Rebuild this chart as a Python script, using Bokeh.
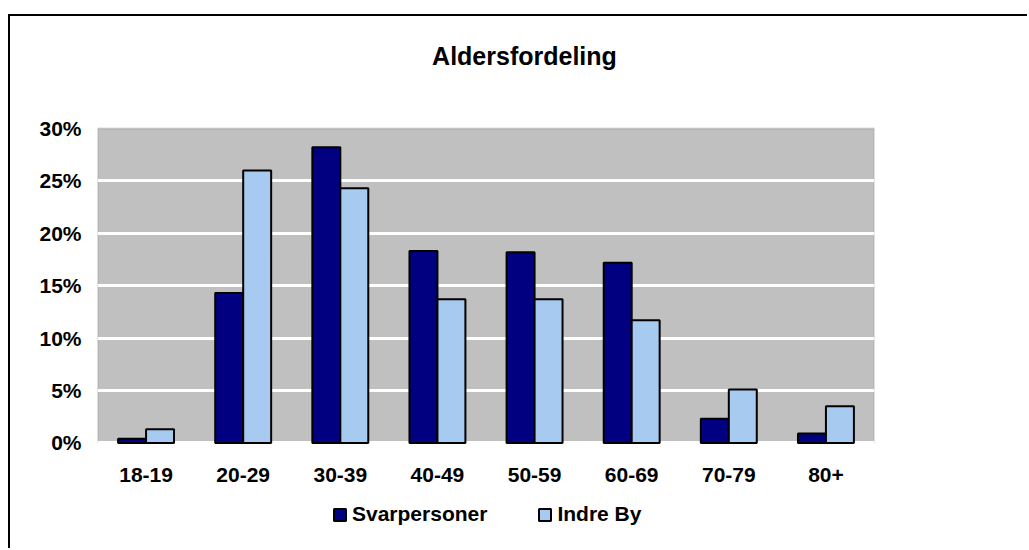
from bokeh.plotting import figure
from bokeh.models import (FactorRange, FixedTicker, NumeralTickFormatter, Legend, LegendItem,
                          ColumnDataSource, BoxAnnotation, Label)
from bokeh.transform import dodge
from bokeh.embed import file_html
from bokeh.resources import INLINE

categories = ["18-19", "20-29", "30-39", "40-49", "50-59", "60-69", "70-79", "80+"]
svarpersoner = [0.4, 14.3, 28.2, 18.3, 18.2, 17.2, 2.3, 0.9]
indre_by = [1.3, 26.0, 24.3, 13.7, 13.7, 11.7, 5.1, 3.5]
y_ticks = [0, 5, 10, 15, 20, 25, 30]
title_text = "Aldersfordeling"
series_names = ["Svarpersoner", "Indre By"]

src = ColumnDataSource(dict(cat=categories,
                            s=[v / 100 for v in svarpersoner],
                            i=[v / 100 for v in indre_by]))

FONT = "Liberation Sans"
Y_MAX = y_ticks[-1] / 100

# the frame spans the full height; the grey plot area is drawn from 0 to 30 %
p = figure(x_range=FactorRange(*categories), y_range=(-0.1026, 0.4068),
           width=1019, height=534, output_backend="svg", toolbar_location=None,
           min_border_left=87, min_border_right=155, min_border_top=0, min_border_bottom=0,
           background_fill_color="white", border_fill_color="white",
           outline_line_color=None,
           styles={"margin-top": "14px", "margin-left": "8px",
                   "border-left": "2px solid black", "border-top": "2px solid black"})

area = BoxAnnotation(bottom=0, top=Y_MAX, fill_color="#C0C0C0", fill_alpha=1,
                     line_color="#808080", line_width=2, level="image")
p.add_layout(area)

r1 = p.vbar(x=dodge("cat", -0.144, range=p.x_range), top="s", width=0.288, source=src,
            fill_color="#000080", line_color="black", line_width=2)
r2 = p.vbar(x=dodge("cat", 0.144, range=p.x_range), top="i", width=0.288, source=src,
            fill_color="#A6CAF0", line_color="black", line_width=2)

p.yaxis.ticker = FixedTicker(ticks=[v / 100 for v in y_ticks])
p.yaxis.formatter = NumeralTickFormatter(format="0%")
p.xaxis.fixed_location = 0
for ax in (p.xaxis[0], p.yaxis[0]):
    ax.axis_line_color = None
    ax.major_tick_line_color = None
    ax.minor_tick_line_color = None
    ax.major_label_text_font = FONT
    ax.major_label_text_font_size = "21px"
    ax.major_label_text_font_style = "bold"
    ax.major_label_text_color = "black"
p.yaxis.major_label_standoff = 10
p.xaxis.major_label_standoff = 19

p.xgrid.grid_line_color = None
p.ygrid.grid_line_color = "white"
p.ygrid.grid_line_width = 3
p.ygrid.ticker = FixedTicker(ticks=[v / 100 for v in y_ticks[:-1]])

title = Label(x=4.396, y=0.3689, text=title_text, text_font=FONT, text_font_size="25px",
              text_font_style="bold", text_align="center", text_baseline="alphabetic",
              text_color="black")
p.add_layout(title)

legend = Legend(items=[LegendItem(label=series_names[0], renderers=[r1]),
                       LegendItem(label=series_names[1], renderers=[r2])],
                location=(235, 24), orientation="horizontal",
                glyph_width=15, glyph_height=15, label_standoff=5, spacing=50,
                padding=0, margin=0, border_line_color=None, background_fill_alpha=0,
                label_text_font=FONT, label_text_font_size="21px", label_text_font_style="bold",
                label_text_color="black")
p.add_layout(legend, "center")

open("out.html", "w").write(file_html(p, INLINE))
